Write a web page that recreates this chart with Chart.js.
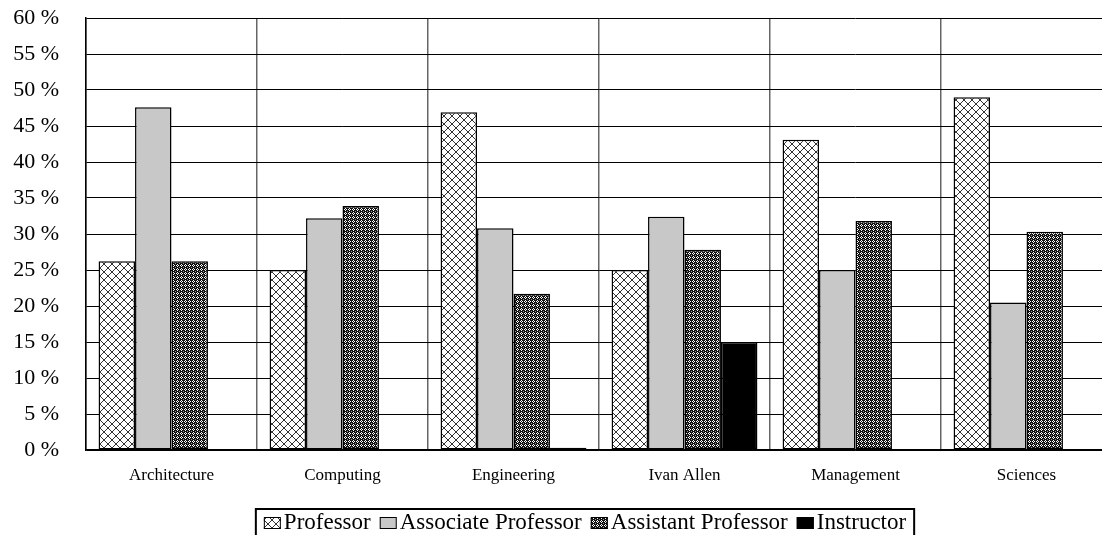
<!DOCTYPE html>
<html>
<head>
<meta charset="utf-8">
<script src="https://cdn.jsdelivr.net/npm/chart.js@4.4.1/dist/chart.umd.min.js"></script>
<style>
    html, body { margin: 0; padding: 0; background: #fff; overflow: hidden; }
    #wrap { width: 1112px; height: 535px; position: relative; }
</style>
</head>
<body>
<div id="wrap"><canvas id="rankChart"></canvas></div>
<script>
// Chart data
const colleges = ['Architecture', 'Computing', 'Engineering', 'Ivan Allen', 'Management', 'Sciences'];
const seriesNames = ['Professor', 'Associate Professor', 'Assistant Professor', 'Instructor'];
const professor = [26.2, 25.0, 46.9, 25.0, 43.1, 49.0];
const associate = [47.6, 32.2, 30.8, 32.4, 25.0, 20.5];
const assistant = [26.2, 33.9, 21.7, 27.8, 31.8, 30.3];
const instructor = [0, 0, 0.3, 15.0, 0, 0];
const yTicks = [0, 5, 10, 15, 20, 25, 30, 35, 40, 45, 50, 55, 60];

const SERIF = '"Liberation Serif", "Times New Roman", serif';

// Cross hatch used for Professor bars
function crossPattern() {
    const c = document.createElement('canvas');
    c.width = 8; c.height = 8;
    const g = c.getContext('2d');
    g.fillStyle = '#fff';
    g.fillRect(0, 0, 8, 8);
    g.fillStyle = '#333';
    for (let i = 0; i < 8; i++) {
        g.fillRect(i, i, 1, 1);
        g.fillRect(7 - i, i, 1, 1);
    }
    return g.createPattern(c, 'repeat');
}

// Dark dotted pattern used for Assistant Professor bars
function dotPattern() {
    const c = document.createElement('canvas');
    c.width = 4; c.height = 4;
    const g = c.getContext('2d');
    g.fillStyle = '#111';
    g.fillRect(0, 0, 4, 4);
    g.fillStyle = '#fff';
    g.fillRect(1, 0, 1, 1);
    g.fillRect(0, 1, 1, 1);
    g.fillRect(2, 1, 1, 1);
    g.fillRect(1, 2, 1, 1);
    g.fillStyle = '#999';
    g.fillRect(3, 3, 1, 1);
    return g.createPattern(c, 'repeat');
}

const fills = [crossPattern(), '#c8c8c8', dotPattern(), '#000'];
const values = [professor, associate, assistant, instructor];

// Boxed legend under the chart
const boxLegend = {
    id: 'boxLegend',
    afterDraw(chart) {
        const ctx = chart.ctx;
        ctx.save();
        ctx.font = '23px ' + SERIF;
        ctx.textBaseline = 'alphabetic';
        const boxW = 17, boxH = 12, gap = 3, itemGap = 9;
        const items = chart.data.datasets.map(ds => ({
            label: ds.label, fill: ds.backgroundColor,
            w: boxW + gap + ctx.measureText(ds.label).width
        }));
        const total = items.reduce((s, it) => s + it.w, 0) + itemGap * (items.length - 1);
        let x = 585 - total / 2;
        const baseY = 529;
        ctx.strokeStyle = '#000';
        ctx.lineWidth = 2;
        ctx.strokeRect(x - 8, 509, total + 16, 60);
        items.forEach(it => {
            ctx.fillStyle = it.fill;
            ctx.fillRect(x, baseY - boxH, boxW, boxH);
            ctx.lineWidth = 1;
            ctx.strokeStyle = '#000';
            ctx.strokeRect(x + 0.5, baseY - boxH + 0.5, boxW - 1, boxH - 1);
            ctx.fillStyle = '#000';
            ctx.fillText(it.label, x + boxW + gap, baseY);
            x += it.w + itemGap;
        });
        ctx.restore();
    }
};

new Chart(document.getElementById('rankChart'), {
    type: 'bar',
    data: {
        labels: colleges,
        datasets: seriesNames.map((name, i) => ({
            label: name,
            data: values[i],
            backgroundColor: fills[i],
            borderColor: '#000',
            borderWidth: 1.5,
            borderSkipped: false,
            categoryPercentage: 0.853,
            barPercentage: 1.0
        }))
    },
    options: {
        responsive: true,
        maintainAspectRatio: false,
        animation: false,
        layout: { padding: { top: 18, left: 0, right: 0, bottom: 0 } },
        plugins: {
            legend: { display: false },
            tooltip: { enabled: false }
        },
        scales: {
            x: {
                grid: { offset: true, color: '#666', lineWidth: 1.5, drawTicks: false },
                border: { color: '#000', width: 1.5 },
                ticks: {
                    color: '#000',
                    font: { family: SERIF, size: 17 },
                    padding: 15,
                    maxRotation: 0
                },
                afterFit: s => { s.height = 85; }
            },
            y: {
                min: 0,
                max: 60,
                afterBuildTicks: s => { s.ticks = yTicks.map(v => ({ value: v })); },
                grid: { color: '#000', lineWidth: 1, drawTicks: false },
                border: { color: '#000', width: 1.5 },
                ticks: {
                    color: '#000',
                    font: { family: SERIF, size: 22 },
                    padding: 27,
                    callback: v => v + ' %'
                },
                afterFit: s => {
                    s.width = 86;
                    s.paddingTop = 0;
                    s.paddingBottom = 0;
                }
            }
        }
    },
    plugins: [boxLegend]
});
</script>
</body>
</html>
